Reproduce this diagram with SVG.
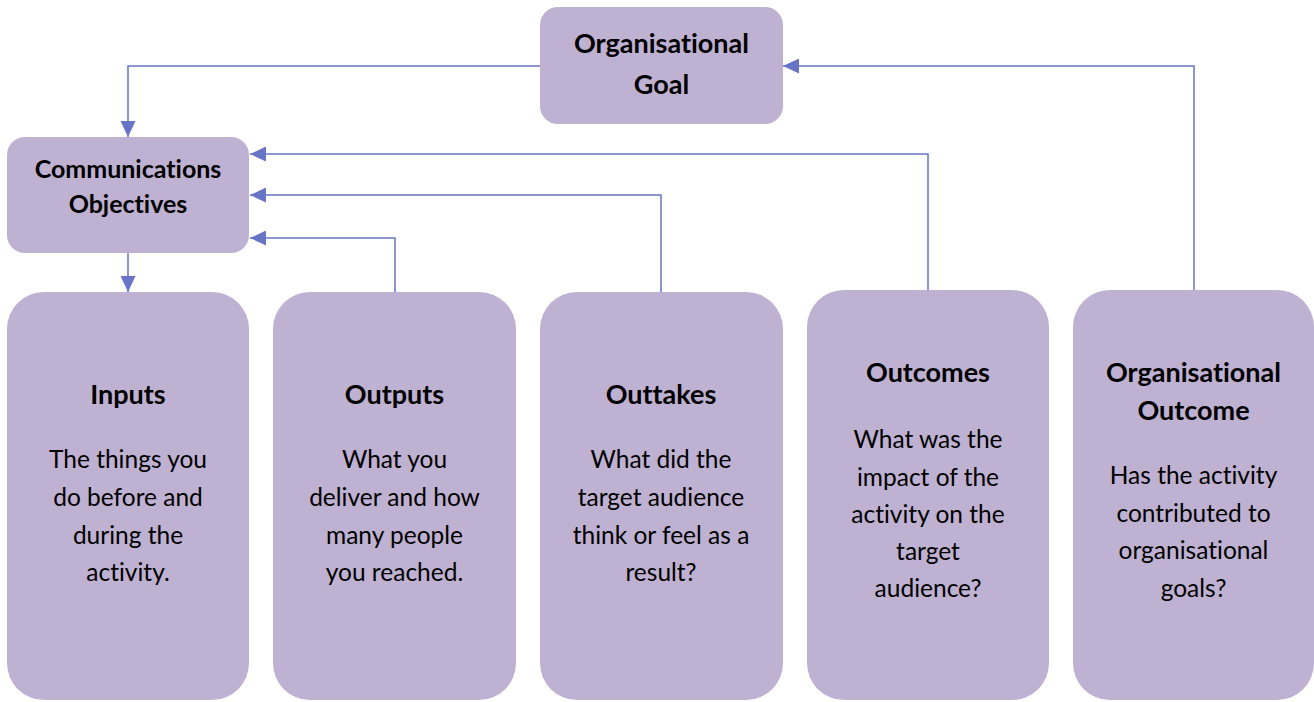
<svg xmlns="http://www.w3.org/2000/svg" width="1314" height="702" viewBox="0 0 1314 702">
<style>
.box{fill:#bfb1d1;}
.t{font-family:Lato,"Noto Sans",sans-serif;fill:#000;text-anchor:middle;font-variant-ligatures:none;font-feature-settings:"liga" 0,"dlig" 0;}
.ttl{font-size:27px;font-weight:bold;}
.sub{font-size:25px;font-weight:bold;}
.body{font-size:24.5px;}
.conn{fill:none;stroke:#6874c6;stroke-width:1.5;}
</style>
<defs>
<marker id="ah" markerUnits="userSpaceOnUse" markerWidth="16" markerHeight="15" refX="16" refY="7.5" orient="auto">
<path d="M0,0 L16,7.5 L0,15 z" fill="#6874c6"/>
</marker>
</defs>
<g id="connectors">
<path class="conn" d="M540,66 H128 V137" marker-end="url(#ah)"/>
<path class="conn" d="M128,253 V292" marker-end="url(#ah)"/>
<path class="conn" d="M395,292 V238 H250" marker-end="url(#ah)"/>
<path class="conn" d="M661,292 V195 H250" marker-end="url(#ah)"/>
<path class="conn" d="M928,290 V154 H250" marker-end="url(#ah)"/>
<path class="conn" d="M1194,290 V66 H783" marker-end="url(#ah)"/>
</g>
<g id="org-goal">
<rect class="box" x="540" y="7" width="243" height="117" rx="18"/>
<text class="t ttl" x="661.5" y="53">Organisational</text>
<text class="t ttl" x="661.5" y="94">Goal</text>
</g>
<g id="comm-objectives">
<rect class="box" x="7" y="137" width="242" height="116" rx="18"/>
<text class="t sub" x="128" y="178">Communications</text>
<text class="t sub" x="128" y="213">Objectives</text>
</g>
<g id="inputs">
<rect class="box" x="7" y="292" width="242" height="408" rx="37"/>
<text class="t ttl" x="128" y="404">Inputs</text>
<text class="t body" x="128" y="468">The things you</text>
<text class="t body" x="128" y="506">do before and</text>
<text class="t body" x="128" y="544">during the</text>
<text class="t body" x="128" y="581">activity.</text>
</g>
<g id="outputs">
<rect class="box" x="273" y="292" width="243" height="408" rx="37"/>
<text class="t ttl" x="394.5" y="404">Outputs</text>
<text class="t body" x="394.5" y="468">What you</text>
<text class="t body" x="394.5" y="506">deliver and how</text>
<text class="t body" x="394.5" y="544">many people</text>
<text class="t body" x="394.5" y="581">you reached.</text>
</g>
<g id="outtakes">
<rect class="box" x="540" y="292" width="243" height="408" rx="37"/>
<text class="t ttl" x="661" y="404">Outtakes</text>
<text class="t body" x="661" y="468">What did the</text>
<text class="t body" x="661" y="506">target audience</text>
<text class="t body" x="661" y="544">think or feel as a</text>
<text class="t body" x="661" y="581">result?</text>
</g>
<g id="outcomes">
<rect class="box" x="807" y="290" width="242" height="410" rx="37"/>
<text class="t ttl" x="928" y="382">Outcomes</text>
<text class="t body" x="928" y="448">What was the</text>
<text class="t body" x="928" y="486">impact of the</text>
<text class="t body" x="928" y="523">activity on the</text>
<text class="t body" x="928" y="560">target</text>
<text class="t body" x="928" y="597">audience?</text>
</g>
<g id="org-outcome">
<rect class="box" x="1073" y="290" width="241" height="410" rx="37"/>
<text class="t ttl" x="1193.5" y="382">Organisational</text>
<text class="t ttl" x="1193.5" y="420">Outcome</text>
<text class="t body" x="1193.5" y="484">Has the activity</text>
<text class="t body" x="1193.5" y="522">contributed to</text>
<text class="t body" x="1193.5" y="559">organisational</text>
<text class="t body" x="1193.5" y="597">goals?</text>
</g>
</svg>
